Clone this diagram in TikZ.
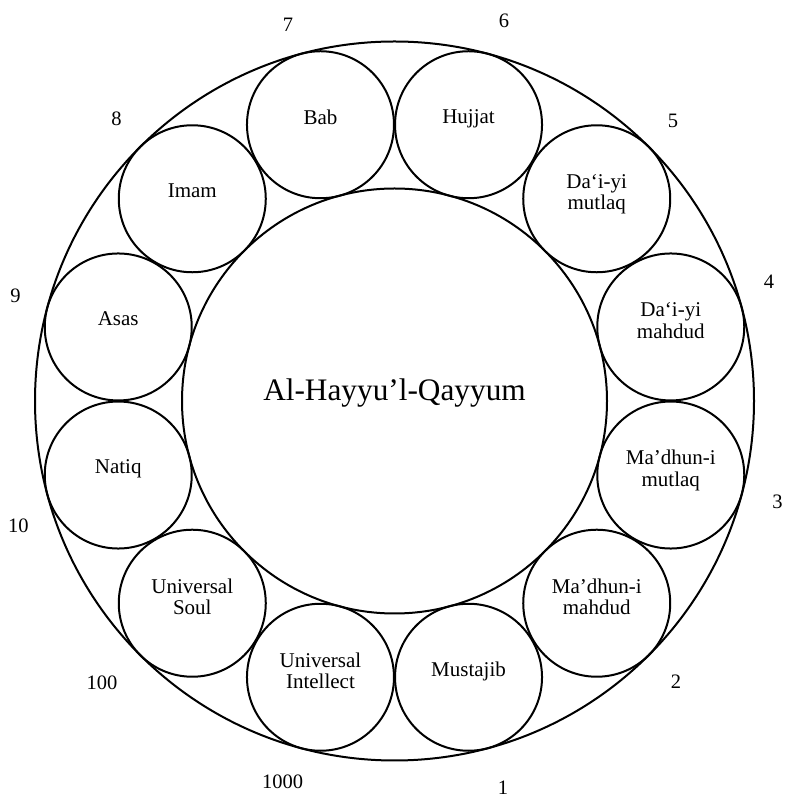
\documentclass[tikz,border=0pt]{standalone}
\usepackage{fontspec}
\setmainfont{Liberation Serif}
\usetikzlibrary{calc}
\newcommand\ts{\rule[-4pt]{0pt}{18pt}}
\begin{document}
\begin{tikzpicture}[x=1pt,y=1pt,
  bigcirc/.style={circle,draw,line width=2pt,inner sep=0pt},
  ring/.style={bigcirc,minimum size=147pt},
  lab/.style={align=center,font=\fontsize{21}{21.5}\selectfont,inner sep=0pt},
  num/.style={font=\fontsize{20.5}{22}\selectfont,inner sep=0pt}]
\useasboundingbox (0,0) rectangle (785,798);
\coordinate (C) at (394.5,397);
\node[bigcirc,minimum size=719pt] (outer) at (C) {};
\node[bigcirc,minimum size=425pt] (inner) at (C) {};
\node[anchor=base,inner sep=0pt,font=\fontsize{31.3}{34}\selectfont] (title) at ($(C)+(0,0.7)$) {Al-Hayyu’l-Qayyum};
% ring of circles
\node[ring] (c1)  at ($(C)+(15:286)$)  {};
\node[ring] (c2)  at ($(C)+(45:286)$)  {};
\node[ring] (c3)  at ($(C)+(75:286)$)  {};
\node[ring] (c4)  at ($(C)+(105:286)$) {};
\node[ring] (c5)  at ($(C)+(135:286)$) {};
\node[ring] (c6)  at ($(C)+(165:286)$) {};
\node[ring] (c7)  at ($(C)+(195:286)$) {};
\node[ring] (c8)  at ($(C)+(225:286)$) {};
\node[ring] (c9)  at ($(C)+(255:286)$) {};
\node[ring] (c10) at ($(C)+(285:286)$) {};
\node[ring] (c11) at ($(C)+(315:286)$) {};
\node[ring] (c12) at ($(C)+(345:286)$) {};
% circle texts
\node[lab] (t1)  at ($(c1)+(0,4.5)$)  {\ts Da‘i-yi\\\ts mahdud};
\node[lab] (t2)  at ($(c2)+(0,4.5)$)  {\ts Da‘i-yi\\\ts mutlaq};
\node[lab] (t3)  at ($(c3)+(0,6)$)    {\ts Hujjat};
\node[lab] (t4)  at ($(c4)+(0,6)$)    {\ts Bab};
\node[lab] (t5)  at ($(c5)+(0,6)$)    {\ts Imam};
\node[lab] (t6)  at ($(c6)+(0,6)$)    {\ts Asas};
\node[lab] (t7)  at ($(c7)+(0,6)$)    {\ts Natiq};
\node[lab] (t8)  at ($(c8)+(0,4.5)$)  {\ts Universal\\\ts Soul};
\node[lab] (t9)  at ($(c9)+(0,4.5)$)  {\ts Universal\\\ts Intellect};
\node[lab] (t10) at ($(c10)+(0,6)$)   {\ts Mustajib};
\node[lab] (t11) at ($(c11)+(0,4.5)$) {\ts Ma’dhun-i\\\ts mahdud};
\node[lab] (t12) at ($(c12)+(0,4.5)$) {\ts Ma’dhun-i\\\ts mutlaq};
% numbers
\node[num] (n1)    at (503,10)    {1};
\node[num] (n2)    at (676,116)   {2};
\node[num] (n3)    at (777.5,296) {3};
\node[num] (n4)    at (769,516)   {4};
\node[num] (n5)    at (673,677.5) {5};
\node[num] (n6)    at (504,777)   {6};
\node[num] (n7)    at (288,773.5) {7};
\node[num] (n8)    at (116.5,679) {8};
\node[num] (n9)    at (15.5,502.5){9};
\node[num] (n10)   at (18.5,272)  {10};
\node[num] (n100)  at (102,115)   {100};
\node[num] (n1000) at (282.5,16)  {1000};
\end{tikzpicture}
\end{document}
